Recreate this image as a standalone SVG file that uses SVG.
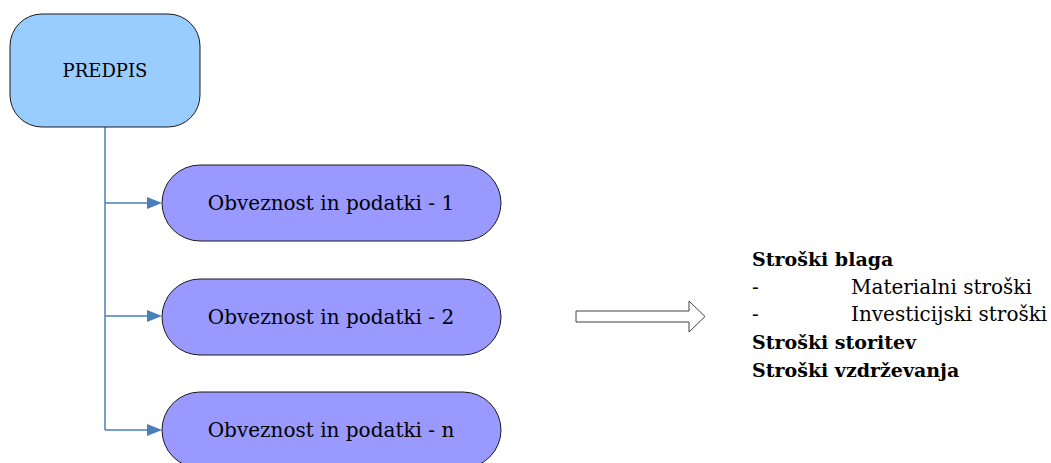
<svg xmlns="http://www.w3.org/2000/svg" width="1051" height="463" viewBox="0 0 1051 463">
  <style>
    .root { fill: #99ccff; stroke: #1a1a1a; stroke-width: 1; }
    .item { fill: #9999ff; stroke: #1a1a1a; stroke-width: 1; }
    .lbl { font-family: "DejaVu Serif", "Liberation Serif", serif; font-size: 20px; fill: #000; text-anchor: middle; }
    .txt { font-family: "DejaVu Serif", "Liberation Serif", serif; font-size: 20px; fill: #000; }
    .bold { font-weight: bold; font-size: 19px; }
    .link { fill: none; stroke: #4a7ebb; stroke-width: 1.5; }
  </style>
  <defs>
    <marker id="head" markerWidth="10" markerHeight="10" refX="9" refY="5" orient="auto" markerUnits="userSpaceOnUse" viewBox="0 0 10 10">
      <path d="M0,0 L10,5 L0,10 Z" fill="#4a7ebb"/>
    </marker>
  </defs>

  <!-- connectors from the root to each item -->
  <g id="connectors">
    <path class="link" d="M105,127 V430"/>
    <path d="M105,203 H147" class="link"/>
    <path d="M105,316 H147" class="link"/>
    <path d="M105,430 H147" class="link"/>
    <path d="M147,197 L162,203 L147,209 Z" fill="#4a7ebb"/>
    <path d="M147,310 L162,316 L147,322 Z" fill="#4a7ebb"/>
    <path d="M147,424 L162,430 L147,436 Z" fill="#4a7ebb"/>
  </g>

  <g id="predpis">
    <rect class="root" x="10" y="14" width="190" height="113" rx="32" ry="32"/>
    <text class="lbl" x="105" y="77" style="font-size:18px">PREDPIS</text>
  </g>

  <g id="obveznost-1">
    <rect class="item" x="162" y="165" width="339" height="76" rx="38" ry="38"/>
    <text class="lbl" x="331" y="210">Obveznost in podatki - 1</text>
  </g>

  <g id="obveznost-2">
    <rect class="item" x="162" y="279" width="339" height="76" rx="38" ry="38"/>
    <text class="lbl" x="331" y="324">Obveznost in podatki - 2</text>
  </g>

  <g id="obveznost-n">
    <rect class="item" x="162" y="392" width="339" height="76" rx="38" ry="38"/>
    <text class="lbl" x="331" y="437">Obveznost in podatki - n</text>
  </g>

  <!-- hollow block arrow -->
  <g id="block-arrow">
    <path d="M576,311 H689 V301 L705,316.5 L689,332 V322 H576 Z" fill="#fff" stroke="#404040" stroke-width="1"/>
  </g>

  <g id="stroski">
    <text class="txt bold" x="752" y="266">Stroški blaga</text>
    <text class="txt" x="752" y="294">-</text>
    <text class="txt" x="851" y="294">Materialni stroški</text>
    <text class="txt" x="752" y="321">-</text>
    <text class="txt" x="851" y="321">Investicijski stroški</text>
    <text class="txt bold" x="752" y="349">Stroški storitev</text>
    <text class="txt bold" x="752" y="377">Stroški vzdrževanja</text>
  </g>
</svg>
